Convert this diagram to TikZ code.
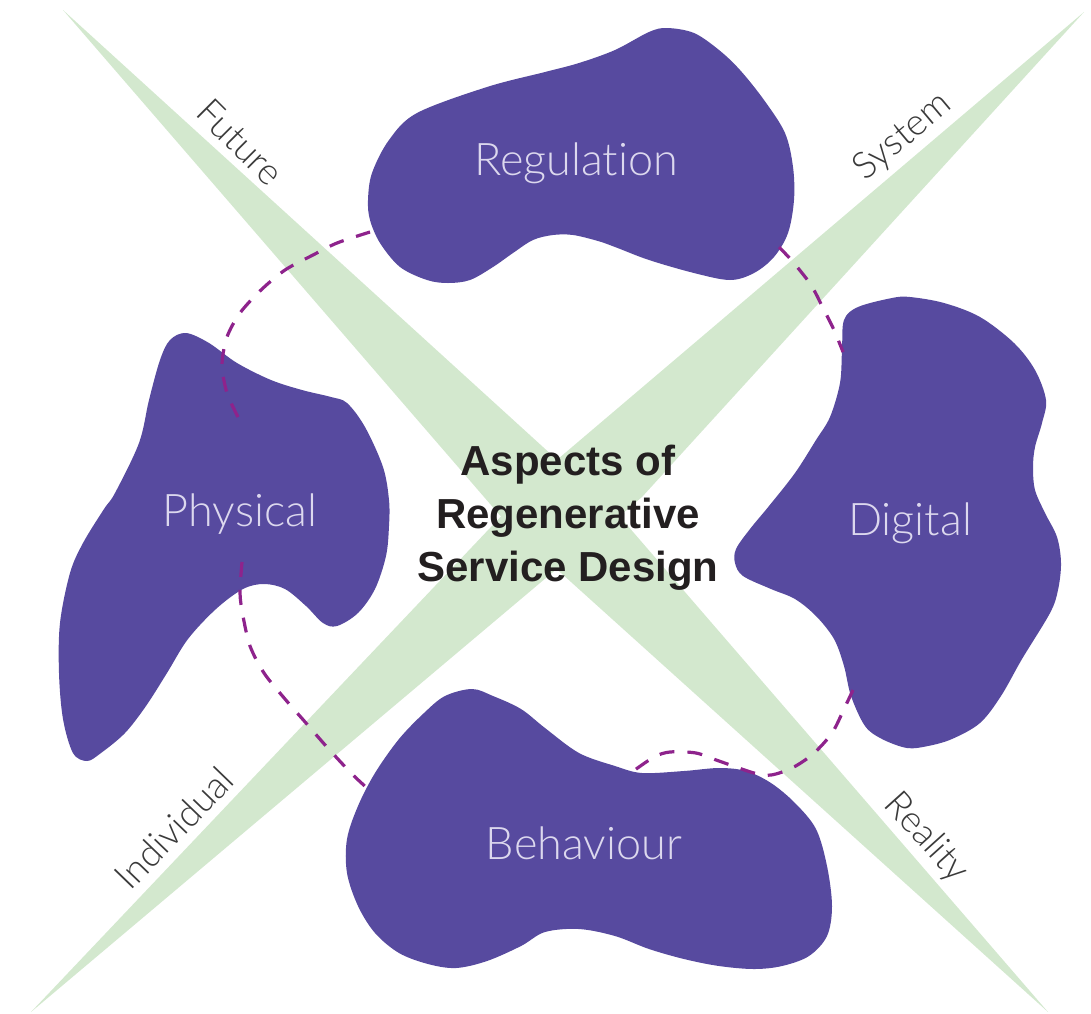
\documentclass[tikz,border=0pt]{standalone}
\usepackage{fontspec}
\setmainfont{Liberation Sans}
\newfontfamily\thinfont{Lato Light}[Ligatures={NoCommon,NoRare}]
\definecolor{bandgreen}{HTML}{D3E8CE}
\definecolor{blobpurple}{HTML}{574A9F}
\definecolor{ringpurple}{HTML}{8E238C}
\definecolor{aspecttext}{HTML}{DCD8EE}
\definecolor{titletext}{HTML}{231F20}
\definecolor{axistext}{HTML}{3A3A3A}

\begin{document}
\begin{tikzpicture}[x=1pt,y=-1pt,
    band/.style={fill=bandgreen},
    blob/.style={fill=blobpurple},
    ring/.style={draw=ringpurple,line width=3.2pt,dash pattern=on 15pt off 13pt},
    aspect/.style={text=aspecttext,font=\thinfont\fontsize{45}{54}\selectfont,inner sep=0pt,anchor=base},
    axislabel/.style={text=axistext,font=\thinfont\fontsize{37}{44}\selectfont,inner sep=0pt},
    title/.style={text=titletext,font=\bfseries\fontsize{42}{53}\selectfont,align=center,inner sep=0pt}]
  \useasboundingbox (0,0) rectangle (1091,1013);

  \fill[band] (63,10) -- (621,518) -- (1048,1012) -- (510,527) -- cycle;
  \fill[band] (31,1012) -- (545,470) -- (1084,12) -- (642,497) -- cycle;

  \fill[blob] plot[smooth cycle,tension=0.55] coordinates {(372,173) (389,140) (417,113) (487,87) (545,72) (579,63) (615,50) (649,32) (667,28) (694,33) (719,50) (740,70) (764,100) (785,133) (793,167) (794,200) (788,233) (774,257) (754,273) (730,280) (694,273) (649,260) (615,247) (598,241) (573,235) (553,235) (533,240) (513,253) (493,267) (470,280) (448,283) (427,280) (400,267) (380,243) (370,220) (368,200)};
  \fill[blob] plot[smooth cycle,tension=0.55] coordinates {(186,333) (209,343) (237,363) (271,380) (302,390) (331,397) (347,403) (365,427) (383,467) (389,500) (389,526) (386,556) (375,589) (358,613) (337,626) (323,623) (306,606) (285,589) (264,584) (243,589) (216,609) (188,639) (167,673) (146,706) (125,733) (101,753) (87,761) (73,753) (63,719) (59,673) (60,623) (70,573) (83,543) (104,509) (115,493) (139,443) (149,400) (160,360) (170,340)};
  \fill[blob] plot[smooth cycle,tension=0.55] coordinates {(844,320) (858,307) (892,298) (910,297) (944,303) (980,317) (1014,343) (1035,370) (1046,400) (1042,423) (1035,447) (1033,467) (1035,490) (1045,513) (1057,537) (1061,563) (1058,590) (1050,613) (1022,659) (1001,696) (980,723) (952,739) (928,746) (907,748) (882,739) (865,726) (851,696) (844,666) (834,639) (816,616) (795,599) (771,589) (743,576) (735,563) (736,549) (750,529) (769,506) (795,473) (816,440) (830,417) (840,383) (842,350)};
  \fill[blob] plot[smooth cycle,tension=0.55] coordinates {(347,839) (358,806) (375,773) (399,739) (424,713) (445,696) (472,689) (493,696) (521,709) (545,728) (579,753) (615,766) (642,773) (684,771) (719,768) (746,771) (771,783) (795,803) (816,829) (827,866) (832,906) (827,936) (809,956) (782,966) (754,969) (719,966) (684,959) (649,949) (615,936) (579,929) (545,932) (521,946) (487,961) (456,968) (428,964) (399,953) (375,933) (358,906) (347,873)};

  \draw[ring] plot[smooth] coordinates {(238,417) (227,393) (222,365) (227,337) (240,313) (261,290) (285,270) (313,255) (337,243) (370,232)};
  \draw[ring] plot[smooth] coordinates {(242,562) (240,593) (243,616) (250,646) (264,673) (285,699) (306,723) (326,746) (351,773) (367,788)};
  \draw[ring] plot[smooth] coordinates {(779,247) (793,262) (811,285) (823,308) (834,330) (843,352)};
  \draw[ring] plot[smooth] coordinates {(853,690) (844,709) (832,733) (813,754) (792,768) (771,775) (754,773) (719,761) (696,753) (670,752) (654,757) (632,772)};

  \node[aspect] (regulation) at (576,175) {Regulation};
  \node[aspect] (physical) at (240,526) {Physical};
  \node[aspect] (digital) at (910,535) {Digital};
  \node[aspect] (behaviour) at (584,859) {Behaviour};

  \node[axislabel,rotate=-45] (future) at (240,142) {Future};
  \node[axislabel,rotate=40] (system) at (903,137) {System};
  \node[axislabel,rotate=46] (individual) at (174,828) {Individual};
  \node[axislabel,rotate=-48] (reality) at (926,838) {Reality};

  \node[title] (aspects) at (568,518) {Aspects of\\Regenerative\\Service Design};
\end{tikzpicture}
\end{document}
